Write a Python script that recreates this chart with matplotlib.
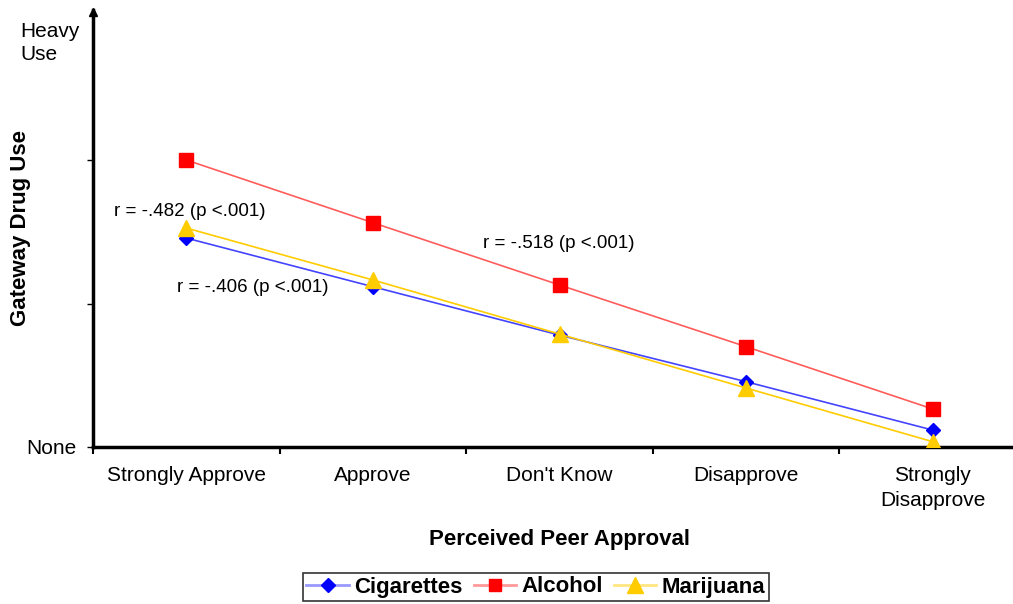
import matplotlib
matplotlib.use("Agg")
import matplotlib.pyplot as plt
from matplotlib.lines import Line2D

plt.rcParams['font.family'] = ['Liberation Sans', 'DejaVu Sans']

categories = ["Strongly Approve", "Approve", "Don't Know", "Disapprove", "Strongly\nDisapprove"]
cigarettes = [1.456, 1.117, 0.780, 0.455, 0.118]
alcohol = [2.000, 1.563, 1.129, 0.699, 0.265]
marijuana = [1.526, 1.164, 0.787, 0.411, 0.037]
annotations = ["r = -.482 (p <.001)", "r = -.406 (p <.001)", "r = -.518 (p <.001)"]

fig = plt.figure(figsize=(10.13, 6.04), dpi=100)
ax = fig.add_axes([93/1013, 157/604, 933/1013, 437/604])
ax.set_xlim(-0.5, 4.5)
ax.set_ylim(0, 437/143.5)

x = list(range(len(categories)))
ax.plot(x, cigarettes, color='#4444FF', lw=1.2, marker='D', ms=7, mfc='#0000FF', mec='#0000FF', label='Cigarettes', zorder=3)
ax.plot(x, alcohol, color='#FF5C5C', lw=1.2, marker='s', ms=10, mfc='#FF0000', mec='#FF0000', label='Alcohol', zorder=3)
ax.plot(x, marijuana, color='#FFCC00', lw=1.2, marker='^', ms=11, mfc='#FFCC00', mec='#FFCC00', label='Marijuana', zorder=4)

for s in ['top', 'right']:
    ax.spines[s].set_visible(False)
for s in ['left', 'bottom']:
    ax.spines[s].set_linewidth(2.5)
    ax.spines[s].set_color('black')

# arrow at top of y axis
ax.plot([0], [0.995], marker='^', ms=6, color='black', transform=ax.transAxes, clip_on=False, zorder=5)

ax.set_xticks(x)
ax.set_xticklabels(categories, fontsize=15, linespacing=1.35)
ax.tick_params(axis='x', which='major', length=0, pad=14)
ax.set_xticks([-0.5, 0.5, 1.5, 2.5, 3.5], minor=True)
ax.tick_params(axis='x', which='minor', length=5, width=1.5, direction='out')

ax.set_yticks([0, 1, 2])
ax.set_yticklabels(['None', '', ''], fontsize=15)
ax.tick_params(axis='y', length=4, width=1, pad=8)
ax.text(-73/933, 1.0 - 33/437, 'Heavy\nUse', transform=ax.transAxes, ha='left', va='center',
        fontsize=15, linespacing=1.3)

ax.set_ylabel('Gateway Drug Use', fontsize=16, fontweight='bold')
ax.yaxis.set_label_coords(-62/933, 0.5)
ax.set_xlabel('Perceived Peer Approval', fontsize=16, fontweight='bold', labelpad=14)

ax.text(0 - 0.39, (447 - 212) / 143.5, annotations[0], fontsize=13.5, ha='left', va='center')
ax.text(0 - 0.05, (447 - 287) / 143.5, annotations[1], fontsize=13.5, ha='left', va='center')
ax.text(1.59, (447 - 243) / 143.5, annotations[2], fontsize=13.5, ha='left', va='center')

handles = [
    Line2D([], [], color='#9999FF', lw=2, marker='D', ms=7, mfc='#0000FF', mec='#0000FF'),
    Line2D([], [], color='#FF9999', lw=2, marker='s', ms=9, mfc='#FF0000', mec='#FF0000'),
    Line2D([], [], color='#FFE680', lw=2, marker='^', ms=11, mfc='#FFCC00', mec='#FFCC00'),
]
leg = fig.legend(handles, ['Cigarettes', 'Alcohol', 'Marijuana'], loc='center',
                 bbox_to_anchor=(536/1013, 1 - 587/604), ncol=3, frameon=True,
                 fancybox=False, edgecolor='black', prop={'weight': 'bold', 'size': 16},
                 handlelength=1.9, handletextpad=0.25, columnspacing=0.5, borderpad=0.15,
                 borderaxespad=0)
leg.get_frame().set_linewidth(1.2)

fig.savefig('out.png', dpi=100)
